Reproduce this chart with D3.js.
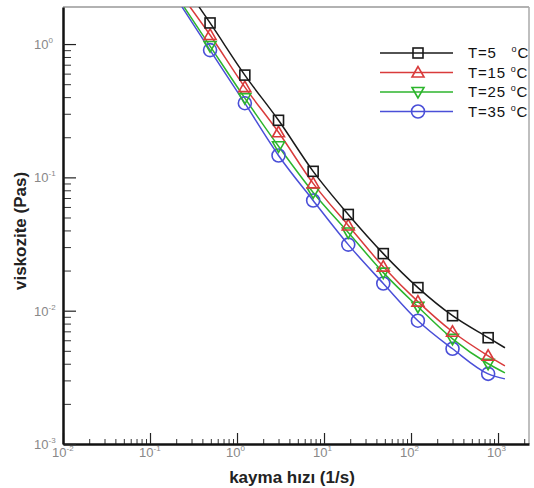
<!DOCTYPE html>
<html>
<head>
<meta charset="utf-8">
<script src="https://cdn.jsdelivr.net/npm/d3@7"></script>
<style>
  body { margin: 0; background: #fff; }
  svg { font-family: "Liberation Sans", Arial, sans-serif; }
</style>
</head>
<body>
<div id="chart"></div>
<script>
// measured shear rates (1/s) and viscosities (Pa s)
var shearRate = [0.49, 1.23, 3.0, 7.5, 19, 48, 120, 300, 770];
var visc5  = [1.44, 0.585, 0.268, 0.111, 0.0527, 0.0268, 0.0149, 0.00917, 0.00627];
var visc15 = [1.17, 0.475, 0.218, 0.0901, 0.0436, 0.0214, 0.0117, 0.00695, 0.00459];
var visc25 = [0.966, 0.393, 0.171, 0.0771, 0.0386, 0.0193, 0.0107, 0.00615, 0.0040];
var visc35 = [0.901, 0.360, 0.146, 0.0671, 0.0313, 0.0160, 0.00841, 0.00518, 0.00336];

// fitted curve ends (where the curves leave the top edge and where they stop)
var fitStartRate = [0.366, 0.288, 0.246, 0.233];
var fitStartVisc = [1.9, 1.9, 1.9, 1.9];
var fitEndRate = [1200, 1200, 1200, 1200];
var fitEndVisc = [0.00527, 0.00386, 0.00342, 0.00308];

var seriesNames = ["5", "15", "25", "35"];
var seriesColors = ["#1a1a1a", "#d93b3b", "#2cb52c", "#4a4fd8"];
var seriesMarkers = ["square", "triangleUp", "triangleDown", "circle"];
var seriesValues = [visc5, visc15, visc25, visc35];

var xTickValues = [1e-2, 1e-1, 1e0, 1e1, 1e2, 1e3];
var xTickExp = ["-2", "-1", "0", "1", "2", "3"];
var yTickValues = [1e-3, 1e-2, 1e-1, 1e0];
var yTickExp = ["-3", "-2", "-1", "0"];

var W = 534, H = 488;
var margin = { top: 7, right: 5, bottom: 44, left: 63 };
var width = W - margin.left - margin.right;
var height = H - margin.top - margin.bottom;

var svg = d3.select("#chart").append("svg")
  .attr("width", W)
  .attr("height", H);

var g = svg.append("g")
  .attr("transform", "translate(" + margin.left + "," + margin.top + ")");

// Scales
var xScale = d3.scaleLog()
  .domain([1e-2, Math.pow(10, 3.356)])
  .range([0, width]);

var yScale = d3.scaleLog()
  .domain([1e-3, Math.pow(10, 0.278)])
  .range([height, 0]);

// frame (top/right lighter)
g.append("line").attr("x1", 0).attr("x2", width).attr("y1", 0).attr("y2", 0)
  .attr("stroke", "#999").attr("stroke-width", 1.5);
g.append("line").attr("x1", width).attr("x2", width).attr("y1", 0).attr("y2", height)
  .attr("stroke", "#aaa").attr("stroke-width", 1.5);

// minor ticks
var xMinor = xScale.ticks().filter(function (d) { return xTickValues.indexOf(d) < 0; });
var yMinor = yScale.ticks().filter(function (d) { return yTickValues.indexOf(d) < 0; });

g.append("g")
  .attr("class", "x minor")
  .attr("transform", "translate(0," + height + ")")
  .call(d3.axisBottom(xScale).tickValues(xMinor).tickSize(-5).tickFormat(""))
  .call(function (a) { a.select(".domain").remove(); a.selectAll("line").attr("stroke", "#333"); });

g.append("g")
  .attr("class", "y minor")
  .call(d3.axisLeft(yScale).tickValues(yMinor).tickSize(-8).tickFormat(""))
  .call(function (a) { a.select(".domain").remove(); a.selectAll("line").attr("stroke", "#333"); });

// major ticks + axes
var xAxis = g.append("g")
  .attr("class", "x axis")
  .attr("transform", "translate(0," + height + ")")
  .call(d3.axisBottom(xScale).tickValues(xTickValues).tickSize(-11).tickSizeOuter(0).tickFormat(""));

var yAxis = g.append("g")
  .attr("class", "y axis")
  .call(d3.axisLeft(yScale).tickValues(yTickValues).tickSize(-13).tickSizeOuter(0).tickFormat(""));

g.selectAll(".axis .domain").attr("stroke", "#111").attr("stroke-width", 2.5);
g.selectAll(".axis .tick line").attr("stroke", "#222").attr("stroke-width", 1.2);

// tick labels with superscripts
var xLab = g.append("g").attr("class", "x labels");
xTickValues.forEach(function (v, i) {
  var t = xLab.append("text")
    .attr("x", xScale(v) - 11)
    .attr("y", height + 13)
    .attr("fill", "#888")
    .attr("font-size", 13);
  t.append("tspan").text("10");
  t.append("tspan").attr("dy", -6).attr("font-size", 8).text(xTickExp[i]);
});

var yLab = g.append("g").attr("class", "y labels");
yTickValues.forEach(function (v, i) {
  var t = yLab.append("text")
    .attr("x", -29)
    .attr("y", yScale(v) + 5)
    .attr("fill", "#888")
    .attr("font-size", 13);
  t.append("tspan").text("10");
  t.append("tspan").attr("dy", -6).attr("font-size", 8).text(yTickExp[i]);
});

// axis titles
svg.append("text")
  .attr("x", 292)
  .attr("y", 483)
  .attr("text-anchor", "middle")
  .attr("font-size", 17)
  .attr("font-weight", "bold")
  .attr("fill", "#222")
  .text("kayma hızı (1/s)");

svg.append("text")
  .attr("transform", "translate(26,231) rotate(-90)")
  .attr("text-anchor", "middle")
  .attr("font-size", 17)
  .attr("font-weight", "bold")
  .attr("fill", "#222")
  .text("viskozite (Pas)");

// clip for curves
svg.append("clipPath").attr("id", "plotClip")
  .append("rect").attr("width", width).attr("height", height);

var line = d3.line()
  .x(function (d) { return xScale(d[0]); })
  .y(function (d) { return yScale(d[1]); })
  .curve(d3.curveMonotoneX);

var curves = g.append("g").attr("clip-path", "url(#plotClip)");
var marks = g.append("g");

function drawMarker(sel, type, cx, cy, color) {
  if (type === "square") {
    sel.append("rect").attr("x", cx - 5).attr("y", cy - 5).attr("width", 10).attr("height", 10)
      .attr("fill", "none").attr("stroke", color).attr("stroke-width", 1.6);
  } else if (type === "circle") {
    sel.append("circle").attr("cx", cx).attr("cy", cy).attr("r", 6.5)
      .attr("fill", "none").attr("stroke", color).attr("stroke-width", 1.6);
  } else {
    var s = type === "triangleUp" ? 1 : -1;
    var pts = [[cx, cy - 6 * s], [cx - 6, cy + 4.5 * s], [cx + 6, cy + 4.5 * s]];
    sel.append("path").attr("d", "M" + pts.join("L") + "Z")
      .attr("fill", "none").attr("stroke", color).attr("stroke-width", 1.6);
  }
}

// draw back-to-front so black sits on top
for (var k = seriesValues.length - 1; k >= 0; k--) {
  var pts = [[fitStartRate[k], fitStartVisc[k]]];
  shearRate.forEach(function (r, i) { pts.push([r, seriesValues[k][i]]); });
  pts.push([fitEndRate[k], fitEndVisc[k]]);

  curves.append("path")
    .attr("fill", "none")
    .attr("stroke", seriesColors[k])
    .attr("stroke-width", 1.5)
    .attr("d", line(pts));

  for (var i = 0; i < shearRate.length; i++) {
    drawMarker(marks, seriesMarkers[k], xScale(shearRate[i]), yScale(seriesValues[k][i]), seriesColors[k]);
  }
}

// legend
var legend = svg.append("g").attr("class", "legend");
seriesNames.forEach(function (name, i) {
  var ly = 53 + i * 19.5;
  legend.append("line")
    .attr("x1", 380).attr("x2", 453).attr("y1", ly).attr("y2", ly)
    .attr("stroke", seriesColors[i]).attr("stroke-width", 1.5);
  drawMarker(legend, seriesMarkers[i], 418, ly, seriesColors[i]);
  var t = legend.append("text")
    .attr("x", 468).attr("y", ly + 5)
    .attr("font-size", 15)
    .attr("letter-spacing", 0.8)
    .attr("fill", "#111")
    .attr("xml:space", "preserve");
  t.append("tspan").text(name.length === 1 ? "T=" + name + "   " : "T=" + name + " ");
  t.append("tspan").attr("dy", -6).attr("font-size", 9).text("o");
  t.append("tspan").attr("dy", 6).text("C");
});
</script>
</body>
</html>
